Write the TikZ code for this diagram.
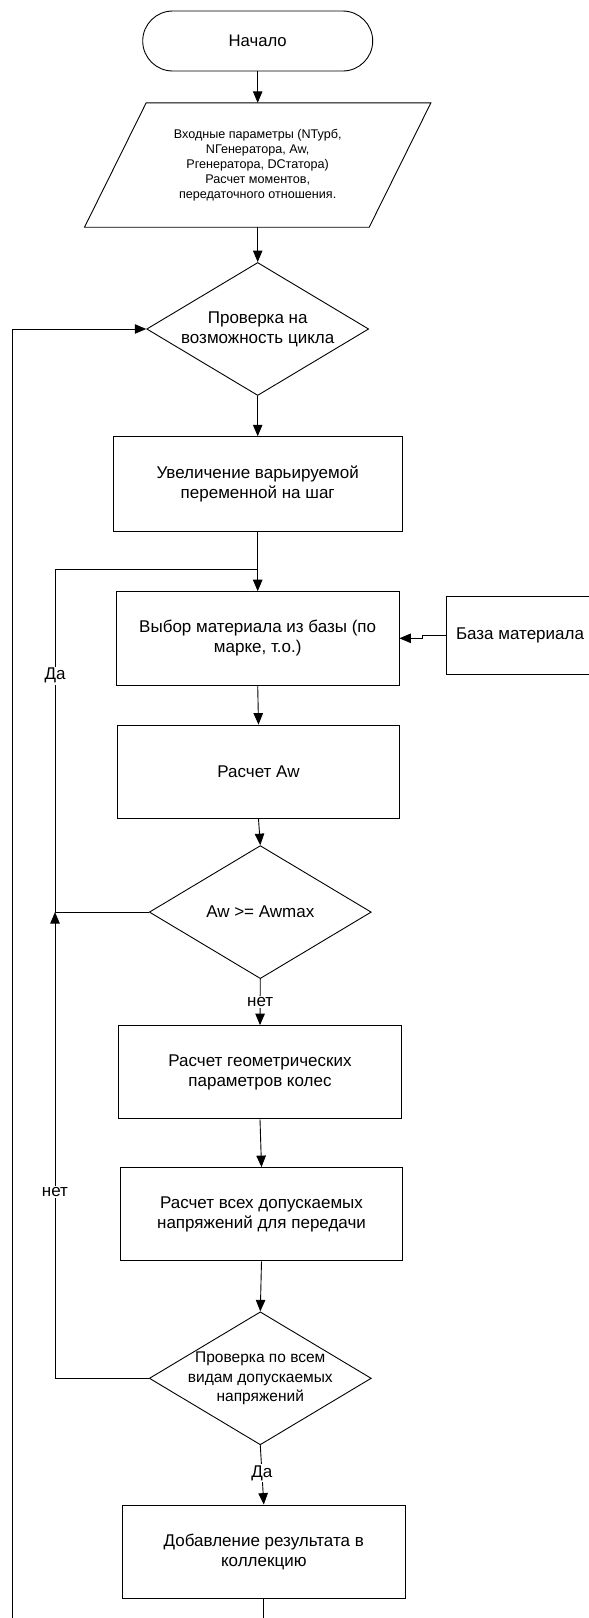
\documentclass[tikz,border=0pt]{standalone}
\usepackage{fontspec}
\setmainfont{Liberation Sans}
\usetikzlibrary{shapes.geometric,arrows.meta}

\begin{document}
\begin{tikzpicture}[x=1pt,y=-1pt,
    link/.style={line width=0.9pt},
    arr/.style={line width=0.9pt,-{Triangle[length=11.5pt,width=9.5pt]}},
    term/.style={draw,line width=0.9pt,rounded corners=30pt,minimum width=230pt,minimum height=60pt,
        font=\fontsize{16.7}{20}\selectfont},
    box/.style={draw,line width=0.9pt,minimum width=282.5pt,minimum height=93.3pt,inner sep=0pt,
        align=center,font=\fontsize{17}{20}\selectfont},
    check/.style={draw,line width=0.9pt,diamond,aspect=1.67,minimum width=222pt,minimum height=133pt,
        inner sep=-6pt,align=center,font=\fontsize{17}{20}\selectfont},
    lbl/.style={fill=white,inner sep=1.5pt,font=\fontsize{17}{20}\selectfont}]
    \useasboundingbox (0,0) rectangle (589,1618);

    % main column
    \node[term] (start) at (257.7,41) {Начало};

    % input data, a parallelogram round an empty node
    \node[minimum width=284.3pt,minimum height=124pt,inner sep=0pt,align=center,
        font=\fontsize{12.6}{15}\selectfont] (input) at (257.7,165)
        {Входные параметры (NТурб,\\NГенератора, Aw,\\Pгенератора, DСтатора)\\Расчет моментов,\\передаточного отношения.};
    \draw[link] ([xshift=30.85pt]input.north west) -- ([xshift=30.85pt]input.north east)
        -- ([xshift=-30.85pt]input.south east) -- ([xshift=-30.85pt]input.south west) -- cycle;

    \node[check] (check) at (257.7,329) {Проверка на\\возможность цикла};
    \node[box,minimum width=288.5pt,minimum height=95pt] (inc) at (257.7,484.2) {Увеличение варьируемой\\переменной на шаг};
    \node[box] (select) at (257.7,638.3) {Выбор материала из базы (по\\марке, т.о.)};
    \node[box,minimum width=148pt,minimum height=77.3pt] (base) at (520,635.3) {База материала};
    \node[box] (aw) at (258.5,771.7) {Расчет Aw};
    \node[check] (awcheck) at (260.3,912.1) {Aw >= Awmax};
    \node[box] (geom) at (260,1072.2) {Расчет геометрических\\параметров колес};
    \node[box] (stress) at (261.5,1214.2) {Расчет всех допускаемых\\напряжений для передачи};
    \node[check,font=\fontsize{15.5}{19.7}\selectfont] (stresscheck) at (260.3,1378.3)
        {Проверка по всем\\видам допускаемых\\напряжений};
    \node[box] (result) at (263.8,1551.7) {Добавление результата в\\коллекцию};

    % free ends and joints of the loops
    \coordinate (join) at (257.7,569.3);
    \coordinate (loopjoin) at (55,912.1);
    \coordinate (outer) at (12.3,1618);
    \coordinate (tail) at (263.8,1618);

    % straight connectors
    \draw[arr] (start.south) -- (input.north);
    \draw[arr] (input.south) -- (check.north);
    \draw[arr] (check.south) -- (inc.north);
    \draw[arr] (inc.south) -- (select.north);
    \draw[arr] (base.west) -- ++(-23,0) |- (select.east);
    \draw[arr] (select.south) -- (aw.north);
    \draw[arr] (aw.south) -- (awcheck.north);
    \draw[arr] (awcheck.south) -- (geom.north) node[lbl,midway] {нет};
    \draw[arr] (geom.south) -- (stress.north);
    \draw[arr] (stress.south) -- (stresscheck.north);
    \draw[arr] (stresscheck.south) -- (result.north) node[lbl,pos=0.47] {Да};
    \draw[link] (result.south) -- (tail);

    % loops back
    \draw[link] (awcheck.west) -- (loopjoin) |- (join) node[lbl,pos=0.345] {Да};
    \draw[arr] (stresscheck.west) -- (55,1378.3) -- (loopjoin) node[lbl,pos=0.4] {нет};
    \draw[arr] (outer) |- (check.west);
\end{tikzpicture}
\end{document}
